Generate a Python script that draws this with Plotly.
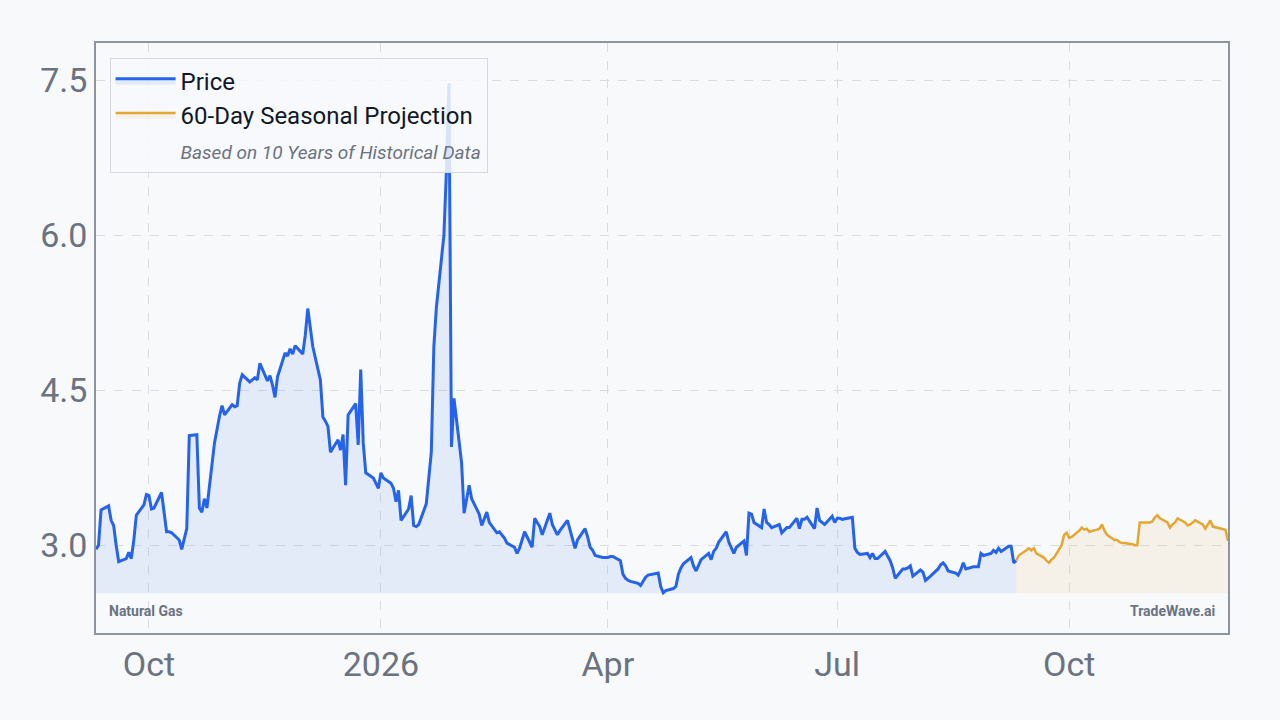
import pandas as pd
import plotly.graph_objects as go

# Monthly business-day price readings (USD/MMBtu)
months = ["2025-09-10", "2025-10", "2025-11", "2025-12", "2026-01", "2026-02", "2026-03",
          "2026-04", "2026-05", "2026-06", "2026-07", "2026-08", "2026-09-01"]
sep25 = [2.96, 3.0, 3.34, 3.38, 3.24, 3.19, 3.0, 2.84, 2.87, 2.93, 2.87, 3.05, 3.29, 3.39, 3.49]
oct25 = [3.48, 3.35, 3.36, 3.51, 3.31, 3.13, 3.13, 3.12, 3.05, 2.96, 3.06, 3.16, 4.06, 4.07, 3.36, 3.32,
         3.45, 3.36, 3.99, 4.14, 4.25, 4.35, 4.26]
nov25 = [4.36, 4.34, 4.35, 4.57, 4.65, 4.58, 4.6, 4.62, 4.6, 4.76, 4.59, 4.64, 4.55, 4.43, 4.63, 4.86,
         4.83, 4.9, 4.85, 4.93]
dec25 = [4.85, 5.03, 5.29, 5.1, 4.92, 4.6, 4.24, 4.2, 4.15, 3.9, 4.02, 3.92, 4.07, 3.58, 4.26, 4.37,
         3.97, 4.70, 3.99, 3.70, 3.65, 3.60, 3.55]
jan26 = [3.7, 3.65, 3.6, 3.55, 3.42, 3.53, 3.24, 3.35, 3.48, 3.19, 3.18, 3.2, 3.4, 3.63, 3.9, 4.92,
         5.3, 6.0, 6.63, 7.47, 3.95, 4.42]
feb26 = [3.8, 3.31, 3.45, 3.58, 3.45, 3.3, 3.19, 3.25, 3.32, 3.22, 3.12, 3.13, 3.1, 3.07, 3.02, 2.98,
         2.92, 2.97, 3.05, 3.13]
mar26 = [2.98, 3.26, 3.22, 3.18, 3.1, 3.31, 3.2, 3.15, 3.1, 3.14, 3.24, 3.15, 3.05, 2.97, 3.05, 3.16,
         3.08, 2.98, 2.95, 2.9, 2.88, 2.88]
apr26 = [2.88, 2.89, 2.89, 2.85, 2.72, 2.68, 2.66, 2.65, 2.63, 2.61, 2.65, 2.69, 2.71, 2.73, 2.73, 2.6,
         2.54, 2.56, 2.58, 2.6, 2.72, 2.78]
may26 = [2.82, 2.88, 2.8, 2.75, 2.8, 2.86, 2.92, 2.86, 2.94, 2.97, 3.03, 3.13, 3.03, 2.98, 2.92, 2.98,
         3.04, 2.9, 3.31, 3.3, 3.22]
jun26 = [3.17, 3.35, 3.22, 3.2, 3.17, 3.2, 3.12, 3.15, 3.17, 3.17, 3.26, 3.16, 3.25, 3.25, 3.27, 3.16,
         3.36, 3.24, 3.22, 3.2, 3.28, 3.22]
jul26 = [3.26, 3.26, 3.25, 3.27, 3.27, 2.97, 2.93, 2.91, 2.92, 2.88, 2.92, 2.87, 2.87, 2.94, 2.9, 2.85,
         2.78, 2.68, 2.77, 2.77, 2.78, 2.8, 2.7]
aug26 = [2.76, 2.74, 2.66, 2.68, 2.7, 2.77, 2.81, 2.83, 2.8, 2.75, 2.73, 2.71, 2.76, 2.83, 2.77, 2.79,
         2.79, 2.79, 2.92, 2.9, 2.92]
sep26 = [2.95, 2.93, 2.97, 2.94, 2.99, 2.99, 2.83, 2.85]
month_values = [sep25, oct25, nov25, dec25, jan26, feb26, mar26, apr26, may26, jun26, jul26, aug26, sep26]
month_ends = ["2025-09-30", "2025-10-31", "2025-11-30", "2025-12-31", "2026-01-31", "2026-02-28",
              "2026-03-31", "2026-04-30", "2026-05-31", "2026-06-30", "2026-07-31", "2026-08-31",
              "2026-09-10"]

# 60 business-day seasonal projection (first value = last price)
projection = [2.85, 2.9, 2.95, 2.97, 2.95, 2.97, 2.92, 2.88, 2.85, 2.83, 2.86, 2.88, 3.0, 3.1, 3.12,
              3.07, 3.08, 3.14, 3.17, 3.15, 3.16, 3.13, 3.15, 3.16, 3.2, 3.14, 3.1, 3.05, 3.05, 3.03,
              3.02, 3.02, 3.01, 3.0, 3.0, 3.22, 3.22, 3.22, 3.23, 3.27, 3.29, 3.26, 3.22, 3.17, 3.2,
              3.22, 3.26, 3.22, 3.19, 3.2, 3.22, 3.24, 3.2, 3.16, 3.2, 3.24, 3.18, 3.16, 3.15, 3.15, 3.04]

price_dates, price_vals = [], []
for start, end, vals in zip(months, month_ends, month_values):
    s = pd.Timestamp(start)
    e = pd.Timestamp(end)
    d = pd.bdate_range(s, e)
    if len(d) != len(vals):
        d = pd.date_range(s, e - pd.Timedelta(days=1), periods=len(vals))
    price_dates += list(d)
    price_vals += vals

proj_dates = list(pd.bdate_range(price_dates[-1], periods=len(projection)))
baseline = 2.535

BLUE = "#2563eb"
ORANGE = "#e5a632"
GRID = "#d9dde3"
TXT = "#6b7280"
BG = "#f7f9fb"

fig = go.Figure()
fig.add_trace(go.Scatter(x=price_dates, y=[baseline] * len(price_dates), mode="lines",
                         line=dict(width=0), showlegend=False, hoverinfo="skip"))
fig.add_trace(go.Scatter(x=price_dates, y=price_vals, mode="lines", name="Price",
                         line=dict(color=BLUE, width=3), fill="tonexty",
                         fillcolor="rgba(37,99,235,0.09)"))
fig.add_trace(go.Scatter(x=proj_dates, y=[baseline] * len(proj_dates), mode="lines",
                         line=dict(width=0), showlegend=False, hoverinfo="skip"))
fig.add_trace(go.Scatter(x=proj_dates, y=projection, mode="lines", name="60-Day Seasonal Projection",
                         line=dict(color=ORANGE, width=2.5), fill="tonexty",
                         fillcolor="rgba(229,166,50,0.09)"))
fig.add_trace(go.Scatter(x=[None], y=[None], mode="lines", line=dict(color="rgba(0,0,0,0)"),
                         name="<i><span style='font-size:19px;color:#6b7280'>Based on 10 Years of Historical Data</span></i>"))

fig.update_layout(
    width=1280, height=720,
    margin=dict(l=96, r=52, t=43, b=87),
    paper_bgcolor=BG, plot_bgcolor=BG,
    font=dict(family="Roboto", color=TXT),
    legend=dict(x=0.012, y=0.975, xanchor="left", yanchor="top", traceorder="normal",
                bgcolor="rgba(247,249,251,0.85)", bordercolor="#d5d9df", borderwidth=1,
                font=dict(size=24, color="#111827"), tracegroupgap=0, itemwidth=60),
    xaxis=dict(range=["2025-09-10", "2026-12-03"], showgrid=True, gridcolor=GRID, griddash="dash",
               tickvals=["2025-10-01", "2026-01-01", "2026-04-01", "2026-07-01", "2026-10-01"],
               ticktext=["Oct", "2026", "Apr", "Jul", "Oct"],
               tickfont=dict(size=34, color=TXT), showline=True, linecolor="#8e949e",
               linewidth=1.5, mirror=True, ticks="", zeroline=False),
    yaxis=dict(range=[2.15, 7.86], showgrid=True, gridcolor=GRID, griddash="dash",
               tickvals=[3.0, 4.5, 6.0, 7.5], ticktext=["3.0", "4.5", "6.0", "7.5"],
               tickfont=dict(size=34, color=TXT), showline=True, linecolor="#8e949e",
               linewidth=1.5, mirror=True, ticks="", zeroline=False),
    showlegend=True,
)
fig.add_annotation(text="<b>Natural Gas</b>", xref="paper", yref="paper", x=0.01, y=0.02,
                   xanchor="left", yanchor="bottom", showarrow=False,
                   font=dict(size=14, color=TXT))
fig.add_annotation(text="<b>TradeWave.ai</b>", xref="paper", yref="paper", x=0.99, y=0.02,
                   xanchor="right", yanchor="bottom", showarrow=False,
                   font=dict(size=14, color=TXT))

fig.write_html("out.html", config={"displayModeBar": False},
               post_script="document.body.style.margin='0';document.body.style.background='#f7f9fb';"
                           "document.body.style.overflow='hidden';")
